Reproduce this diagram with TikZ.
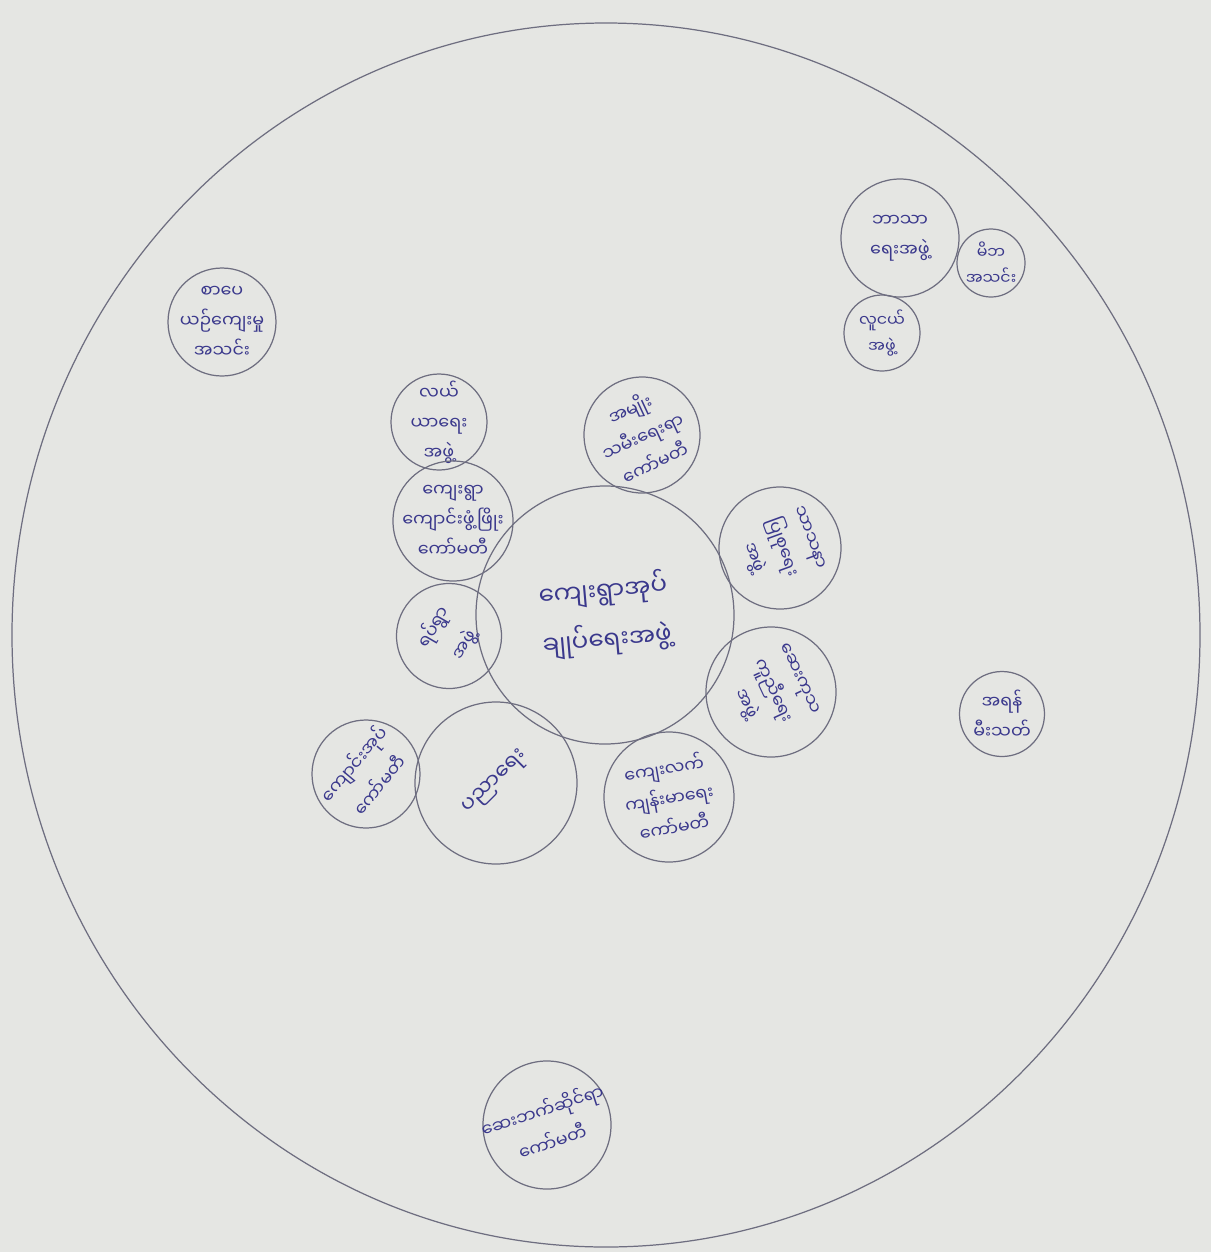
\documentclass[tikz,border=0pt]{standalone}
\usepackage{fontspec}
\usepackage{tikz}
\usetikzlibrary{positioning}
\newfontfamily\mmfont[Script=Myanmar]{Noto Sans Myanmar UI}
\definecolor{paper}{RGB}{229,230,227}
\definecolor{pencil}{RGB}{110,110,128}
\definecolor{inkblue}{RGB}{58,56,140}

\begin{document}
\begin{tikzpicture}[x=0.02cm,y=-0.02cm,
    grp/.style={circle,draw=pencil,line width=0.7pt,text=inkblue,align=center,
      inner sep=-14pt,font=\mmfont\fontsize{10}{17}\selectfont},
    dia/.style={minimum size=#1*0.02cm}]
    \fill[paper] (0,0) rectangle (1211,1252);
    \draw[pencil,line width=0.7pt] (606,635) ellipse [x radius=594, y radius=612];
    % centre: village administration
    \node[grp,dia=258,rotate=5,font=\mmfont\fontsize{14}{28}\selectfont] (admin) at (605,615)
      {ကျေးရွာအုပ်\\ချုပ်ရေးအဖွဲ့};
    % inner ring
    \node[grp,dia=96] (farm) at (439,422) {လယ်\\ယာရေး\\အဖွဲ့};
    \node[grp,dia=120] (school) at (453,521) {ကျေးရွာ\\ကျောင်းဖွံ့ဖြိုး\\ကော်မတီ};
    \node[grp,dia=105,rotate=60,font=\mmfont\fontsize{10}{20}\selectfont] (folk) at (449,636) {ရပ်ရွာ\\အဖွဲ့};
    \node[grp,dia=116,rotate=25] (women) at (642,435) {အမျိုး\\သမီးရေးရာ\\ကော်မတီ};
    \node[grp,dia=122,rotate=-70] (sasana) at (780,548) {သာသနာ\\ပြုစုရေး\\အဖွဲ့};
    \node[grp,dia=130,rotate=-65] (care) at (771,692) {ဆေးကုသ\\ကူညီရေး\\အဖွဲ့};
    \node[grp,dia=130,rotate=10] (health) at (669,797) {ကျေးလက်\\ကျန်းမာရေး\\ကော်မတီ};
    \node[grp,dia=162,rotate=45,font=\mmfont\fontsize{12}{16}\selectfont] (edu) at (496,783) {ပညာရေး};
    \node[grp,dia=108,rotate=50,font=\mmfont\fontsize{10}{19}\selectfont] (board) at (366,774) {ကျောင်းအုပ်\\ကော်မတီ};
    % outer ones
    \node[grp,dia=108] (culture) at (222,322) {စာပေ\\ယဉ်ကျေးမှု\\အသင်း};
    \node[grp,dia=118] (religion) at (900,238) {ဘာသာ\\ရေးအဖွဲ့};
    \node[grp,dia=68,font=\mmfont\fontsize{9}{15}\selectfont] (parents) at (991,263) {မိဘ\\အသင်း};
    \node[grp,dia=76,font=\mmfont\fontsize{9}{15}\selectfont] (youth) at (882,333) {လူငယ်\\အဖွဲ့};
    \node[grp,dia=85] (fire) at (1002,714) {အရန်\\မီးသတ်};
    \node[grp,dia=128,rotate=18,font=\mmfont\fontsize{10}{19}\selectfont] (medic) at (547,1125) {ဆေးဘက်ဆိုင်ရာ\\ကော်မတီ};
\end{tikzpicture}
\end{document}
